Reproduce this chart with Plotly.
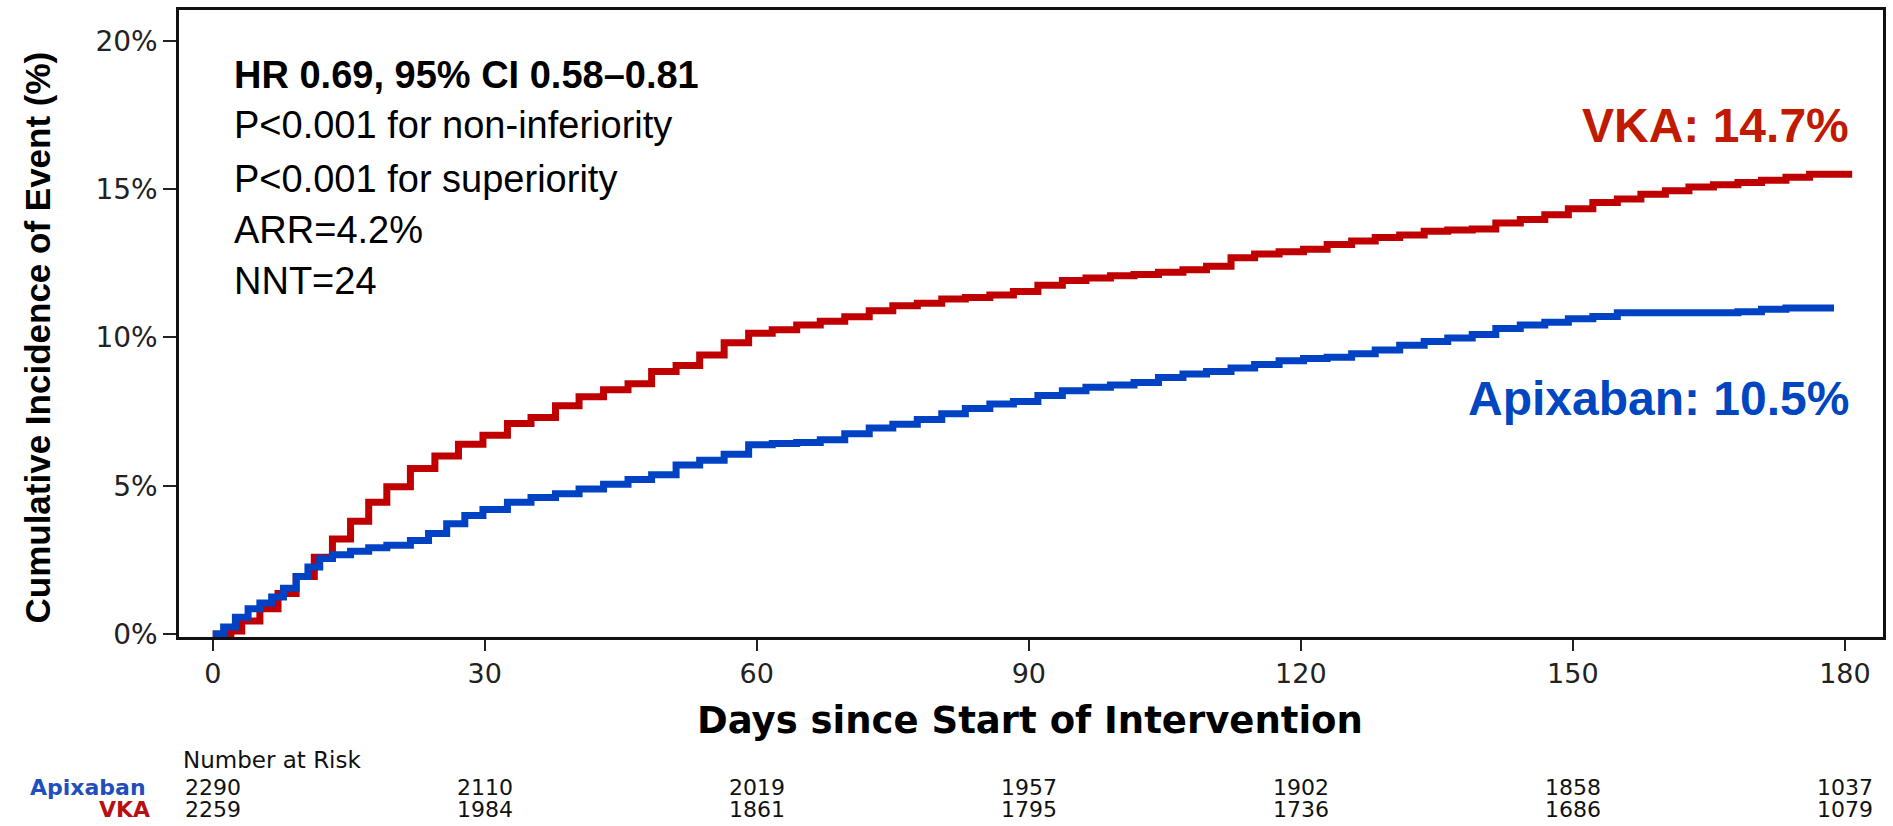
import plotly.graph_objects as go

# Cumulative incidence (%) by day, drawn as step curves
vka_days = [0, 2, 3.2, 5.2, 7.2, 9.2, 11.2, 13.2, 15.2, 17.2, 19.2, 21.8, 24.5, 27.1, 29.8,
            32.5, 35.1, 37.8, 40.4, 43.1, 45.8, 48.4, 51.1, 53.7, 56.4, 59.1, 61.7, 64.4,
            67, 69.7, 72.4, 75, 77.7, 80.4, 83, 85.7, 88.3, 91, 93.7, 96.3, 99, 101.6,
            104.3, 107, 109.6, 112.3, 114.9, 117.6, 120.3, 122.9, 125.6, 128.2, 130.9,
            133.6, 136.2, 138.9, 141.5, 144.2, 146.9, 149.5, 152.2, 154.9, 157.5, 160.2,
            162.8, 165.5, 168.2, 170.8, 173.5, 176.1, 180.8]
vka_pct = [0, 0.1, 0.44, 0.85, 1.37, 1.94, 2.59, 3.2, 3.8, 4.44, 4.97, 5.58, 6.0, 6.4, 6.7,
           7.1, 7.3, 7.7, 8.0, 8.24, 8.44, 8.85, 9.05, 9.41, 9.82, 10.14, 10.26, 10.42,
           10.55, 10.7, 10.9, 11.07, 11.15, 11.3, 11.35, 11.43, 11.55, 11.76, 11.92, 12.0,
           12.08, 12.12, 12.2, 12.28, 12.4, 12.69, 12.81, 12.89, 12.97, 13.13, 13.25,
           13.37, 13.45, 13.58, 13.62, 13.66, 13.86, 13.98, 14.14, 14.34, 14.55, 14.67,
           14.83, 14.95, 15.07, 15.15, 15.22, 15.3, 15.4, 15.5, 15.5]

apx_days = [0, 1.2, 2.5, 3.9, 5.2, 6.5, 7.8, 9.2, 10.5, 11.8, 13.2, 15.2, 17.2, 19.2, 21.8,
            23.8, 25.8, 27.8, 29.8, 32.5, 35.1, 37.8, 40.4, 43.1, 45.8, 48.4, 51.1, 53.7,
            56.4, 59.1, 61.7, 64.4, 67, 69.7, 72.4, 75, 77.7, 80.4, 83, 85.7, 88.3, 91,
            93.7, 96.3, 99, 101.6, 104.3, 107, 109.6, 112.3, 114.9, 117.6, 120.3, 122.9,
            125.6, 128.2, 130.9, 133.6, 136.2, 138.9, 141.5, 144.2, 146.9, 149.5, 152.2,
            154.9, 168.2, 170.8, 173.5, 178.8]
apx_pct = [0, 0.24, 0.57, 0.85, 1.05, 1.25, 1.54, 1.94, 2.26, 2.55, 2.67, 2.79, 2.91, 2.99,
           3.15, 3.39, 3.72, 4.0, 4.2, 4.44, 4.6, 4.73, 4.89, 5.05, 5.21, 5.37, 5.7, 5.86,
           6.06, 6.38, 6.42, 6.46, 6.55, 6.75, 6.95, 7.07, 7.23, 7.43, 7.6, 7.76, 7.84,
           8.04, 8.2, 8.32, 8.4, 8.48, 8.65, 8.77, 8.85, 8.97, 9.09, 9.21, 9.29, 9.33,
           9.45, 9.58, 9.74, 9.86, 9.98, 10.1, 10.3, 10.42, 10.51, 10.63, 10.71, 10.83,
           10.87, 10.95, 10.99, 10.99]

# Number at risk table
risk_days = [0, 30, 60, 90, 120, 150, 180]
risk_apixaban = [2290, 2110, 2019, 1957, 1902, 1858, 1037]
risk_vka = [2259, 1984, 1861, 1795, 1736, 1686, 1079]

x_ticks = [0, 30, 60, 90, 120, 150, 180]
y_ticks = [0, 5, 10, 15, 20]
y_ticktext = ["0%", "5%", "10%", "15%", "20%"]

stats_lines = [
    "<b>HR 0.69, 95% CI 0.58\u20130.81</b>",
    "P<0.001 for non-inferiority",
    "P<0.001 for superiority",
    "ARR=4.2%",
    "NNT=24",
]

RED = "#C00000"
BLUE = "#0042C4"
SANS = "Liberation Sans, Arial, sans-serif"
WIDE = "DejaVu Sans, Verdana, sans-serif"

fig = go.Figure()
fig.add_trace(go.Scatter(x=vka_days, y=vka_pct, mode="lines", line_shape="hv",
                         line=dict(color=RED, width=7), name="VKA", showlegend=False))
fig.add_trace(go.Scatter(x=apx_days, y=apx_pct, mode="lines", line_shape="hv",
                         line=dict(color=BLUE, width=7), name="Apixaban", showlegend=False))

W, H = 1893, 826
ML, MR, MT, MB = 179, 9, 7, 189
pw, ph = W - ML - MR, H - MT - MB


def px(x):
    return (x - ML) / pw


def py(y):
    return (H - MB - y) / ph


ann = []
# statistics block
stats_y = [72, 123, 177, 228, 279]
for txt, yy in zip(stats_lines, stats_y):
    ann.append(dict(text=txt, xref="paper", yref="paper", x=px(232), y=py(yy),
                    xanchor="left", yanchor="middle", showarrow=False,
                    font=dict(family=SANS, size=38, color="black")))

# end-of-curve labels
ann.append(dict(text="<b>VKA: 14.7%</b>", xref="paper", yref="paper", x=px(1852), y=py(123),
                xanchor="right", yanchor="middle", showarrow=False,
                font=dict(family=SANS, size=48, color="#C01A00")))
ann.append(dict(text="<b>Apixaban: 10.5%</b>", xref="paper", yref="paper", x=px(1852), y=py(397),
                xanchor="right", yanchor="middle", showarrow=False,
                font=dict(family=SANS, size=48, color="#0046C0")))

# axis titles
ann.append(dict(text="<b>Cumulative Incidence of Event (%)</b>", xref="paper", yref="paper",
                x=px(37), y=py(336), xanchor="center", yanchor="middle", textangle=-90,
                showarrow=False, font=dict(family=SANS, size=35, color="black")))
ann.append(dict(text="<b>Days since Start of Intervention</b>", xref="paper", yref="paper",
                x=px(1030), y=py(721), xanchor="center", yanchor="middle",
                showarrow=False, font=dict(family=WIDE, size=37, color="black")))

# number at risk table
ann.append(dict(text="Number at Risk", xref="paper", yref="paper", x=px(181), y=py(761),
                xanchor="left", yanchor="middle", showarrow=False,
                font=dict(family=WIDE, size=23, color="#111111")))
ann.append(dict(text="<b>Apixaban</b>", xref="paper", yref="paper", x=px(148), y=py(788),
                xanchor="right", yanchor="middle", showarrow=False,
                font=dict(family=WIDE, size=22, color="#1F4FBF")))
ann.append(dict(text="<b>VKA</b>", xref="paper", yref="paper", x=px(152), y=py(810),
                xanchor="right", yanchor="middle", showarrow=False,
                font=dict(family=WIDE, size=22, color="#B81010")))
for d, a, v in zip(risk_days, risk_apixaban, risk_vka):
    ann.append(dict(text=str(a), xref="x", yref="paper", x=d, y=py(788),
                    xanchor="center", yanchor="middle", showarrow=False,
                    font=dict(family=WIDE, size=22, color="#111111")))
    ann.append(dict(text=str(v), xref="x", yref="paper", x=d, y=py(810),
                    xanchor="center", yanchor="middle", showarrow=False,
                    font=dict(family=WIDE, size=22, color="#111111")))

fig.update_layout(
    width=W, height=H, autosize=False,
    margin=dict(l=ML, r=MR, t=MT, b=MB),
    paper_bgcolor="white", plot_bgcolor="white",
    annotations=ann,
    xaxis=dict(range=[-3.72, 184.2], tickvals=x_ticks, ticks="outside", ticklen=11,
               tickwidth=2, tickcolor="#222", showline=True, linecolor="#111",
               linewidth=2.5, mirror=True, showgrid=False, zeroline=False,
               tickfont=dict(family=WIDE, size=27, color="#222")),
    yaxis=dict(range=[-0.1, 21.04], tickvals=y_ticks, ticktext=y_ticktext,
               ticks="outside", ticklen=13, tickwidth=2, tickcolor="#222",
               showline=True, linecolor="#111", linewidth=2.5, mirror=True,
               showgrid=False, zeroline=False,
               tickfont=dict(family=WIDE, size=28, color="#222")),
)

fig.write_html("out.html")
